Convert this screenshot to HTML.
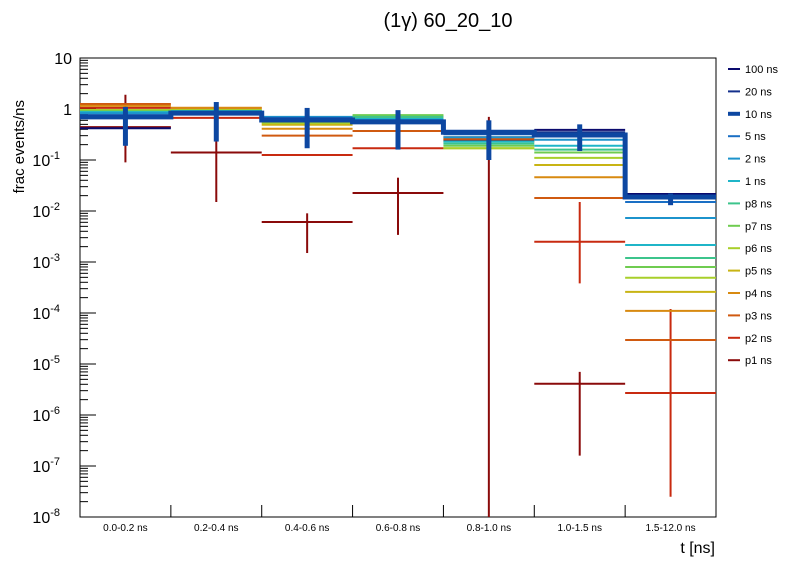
<!DOCTYPE html>
<html><head><meta charset="utf-8"><style>
body{margin:0;background:#fff;}
svg{display:block;font-family:"Liberation Sans",sans-serif;}
</style></head><body>
<svg id="chart" width="796" height="572"></svg>
<script>
const categories=["0.0-0.2 ns","0.2-0.4 ns","0.4-0.6 ns","0.6-0.8 ns","0.8-1.0 ns","1.0-1.5 ns","1.5-12.0 ns"];
const seriesNames=["100 ns","20 ns","10 ns","5 ns","2 ns","1 ns","p8 ns","p7 ns","p6 ns","p5 ns","p4 ns","p3 ns","p2 ns","p1 ns"];
const seriesColors=["#0a0a6e","#14308c","#0d47a1","#1a6fc4","#1c93cc","#1fb5c8","#3cc48c","#6fcc50","#a8cf2a","#c8b414","#d88a10","#d05a10","#c82a10","#8a0a0a"];
const s100=[0.42,0.80,0.61,0.56,0.37,0.39,0.0216];
const s20=[0.67,0.83,0.61,0.56,0.35,0.35,0.0197];
const s10=[0.70,0.83,0.61,0.56,0.35,0.31,0.0188];
const s5=[0.76,0.87,0.67,0.58,0.32,0.31,0.015];
const s2=[0.83,0.87,0.70,0.61,0.28,0.25,0.0073];
const s1=[0.87,0.91,0.67,0.64,0.23,0.19,0.00215];
const sp8=[0.87,0.91,0.64,0.70,0.21,0.16,0.0012];
const sp7=[0.91,0.91,0.58,0.76,0.19,0.14,0.0008];
const sp6=[0.955,0.955,0.53,0.73,0.17,0.11,0.00049];
const sp5=[0.955,0.955,0.49,0.67,0.17,0.08,0.00026];
const sp4=[1.15,1.05,0.41,0.61,0.23,0.046,0.00011];
const sp3=[1.25,1.05,0.30,0.37,0.26,0.018,0.0000295];
const sp2=[1.05,0.67,0.125,0.17,0.28,0.0025,0.0000027];
const sp1=[0.44,0.14,0.0061,0.0225,0.25,0.0000041,null];
const seriesValues=[s100,s20,s10,s5,s2,s1,sp8,sp7,sp6,sp5,sp4,sp3,sp2,sp1];
const err10Lo=[0.19,0.23,0.17,0.16,0.10,0.15,0.013];
const err10Hi=[1.1,1.37,1.05,0.95,0.6,0.5,0.022];
const errP2Lo=[null,null,null,null,null,0.00038,2.5e-8];
const errP2Hi=[null,null,null,null,null,0.015,0.00012];
const errP1Lo=[0.09,0.015,0.0015,0.0034,1e-8,1.6e-7,null];
const errP1Hi=[1.9,0.8,0.009,0.045,0.7,7e-6,null];
const yTickExps=[1,0,-1,-2,-3,-4,-5,-6,-7,-8];

const svg=document.getElementById('chart');
const NS='http://www.w3.org/2000/svg';
const X0=80,X1=716,Y0=58,Y1=517;
function xs(i){return X0+(X1-X0)*i/categories.length;}
function ys(v){return Y0+(1-Math.log10(v))*(Y1-Y0)/9;}
function mk(t,a){const e=document.createElementNS(NS,t);for(const k in a)e.setAttribute(k,a[k]);svg.appendChild(e);return e;}

let f=mk('rect',{x:X0,y:Y0,width:X1-X0,height:Y1-Y0,fill:'none',stroke:'#000','stroke-width':1});


yTickExps.forEach(e=>{
  const y=ys(Math.pow(10,e));
  let t=mk('line',{x1:X0,x2:X0+16,y1:y,y2:y,stroke:'#000'});
  
  let lb=mk('text',{x:X0-8,y:y+6,'text-anchor':'end','font-size':16});
  
  if(e===1)lb.textContent='10';else if(e===0)lb.textContent='1';
  else{lb.textContent='10';const sp=document.createElementNS(NS,'tspan');sp.setAttribute('dy','-7');sp.setAttribute('font-size','11');sp.textContent=String(e);lb.appendChild(sp);lb.setAttribute('x',X0-20);}
  if(e>-8){for(let m=2;m<10;m++){const yy=ys(m*Math.pow(10,e-1));let mt=mk('line',{x1:X0,x2:X0+8,y1:yy,y2:yy,stroke:'#000'});
    }}
});
for(let i=0;i<=categories.length;i++){let t=mk('line',{x1:xs(i),x2:xs(i),y1:Y1,y2:Y1-12,stroke:'#000'});
  }
categories.forEach((c,i)=>{let t=mk('text',{x:(xs(i)+xs(i+1))/2,y:531,'text-anchor':'middle','font-size':10});
  t.textContent=c;});

function errBars(lo,hi,col,w){
  lo.forEach((l,i)=>{if(l===null)return;const cx=(xs(i)+xs(i+1))/2;
    let e=mk('line',{x1:cx,x2:cx,y1:Math.min(ys(l),Y1),y2:ys(hi[i]),stroke:col,'stroke-width':w});
    });
}
const order=[13,12,11,10,9,8,7,6,5,4,3,1,0,2];
order.forEach(s=>{
  const vals=seriesValues[s],col=seriesColors[s],w=(s===2)?5:2;
  let d='';
  if(s===2){vals.forEach((v,i)=>{d+=(i===0?'M':'L')+xs(i)+','+ys(v)+' L'+xs(i+1)+','+ys(v)+' ';});}
  else{vals.forEach((v,i)=>{if(v===null)return;d+='M'+xs(i)+','+ys(v)+' L'+xs(i+1)+','+ys(v)+' ';});}
  let p=mk('path',{d:d,stroke:col,'stroke-width':w,fill:'none'});
  
  
  if(s===13)errBars(errP1Lo,errP1Hi,col,2);
  if(s===12)errBars(errP2Lo,errP2Hi,col,2);
  if(s===2)errBars(err10Lo,err10Hi,col,5);
});

seriesNames.forEach((n,i)=>{const y=69+i*22.4;
  let l=mk('line',{x1:728,x2:740,y1:y,y2:y,stroke:seriesColors[i],'stroke-width':i===2?4:2});
  
  let t=mk('text',{x:745,y:y+4,'font-size':11});t.textContent=n;
  });

let ti=mk('text',{x:448,y:27,'text-anchor':'middle','font-size':20});ti.textContent='(1γ) 60_20_10';

let xt=mk('text',{x:715,y:553,'text-anchor':'end','font-size':16});xt.textContent='t [ns]';

let yt=mk('text',{x:24,y:100,'text-anchor':'end','font-size':15,transform:'rotate(-90 24 100)'});yt.textContent='frac events/ns';

</script>
</body></html>
